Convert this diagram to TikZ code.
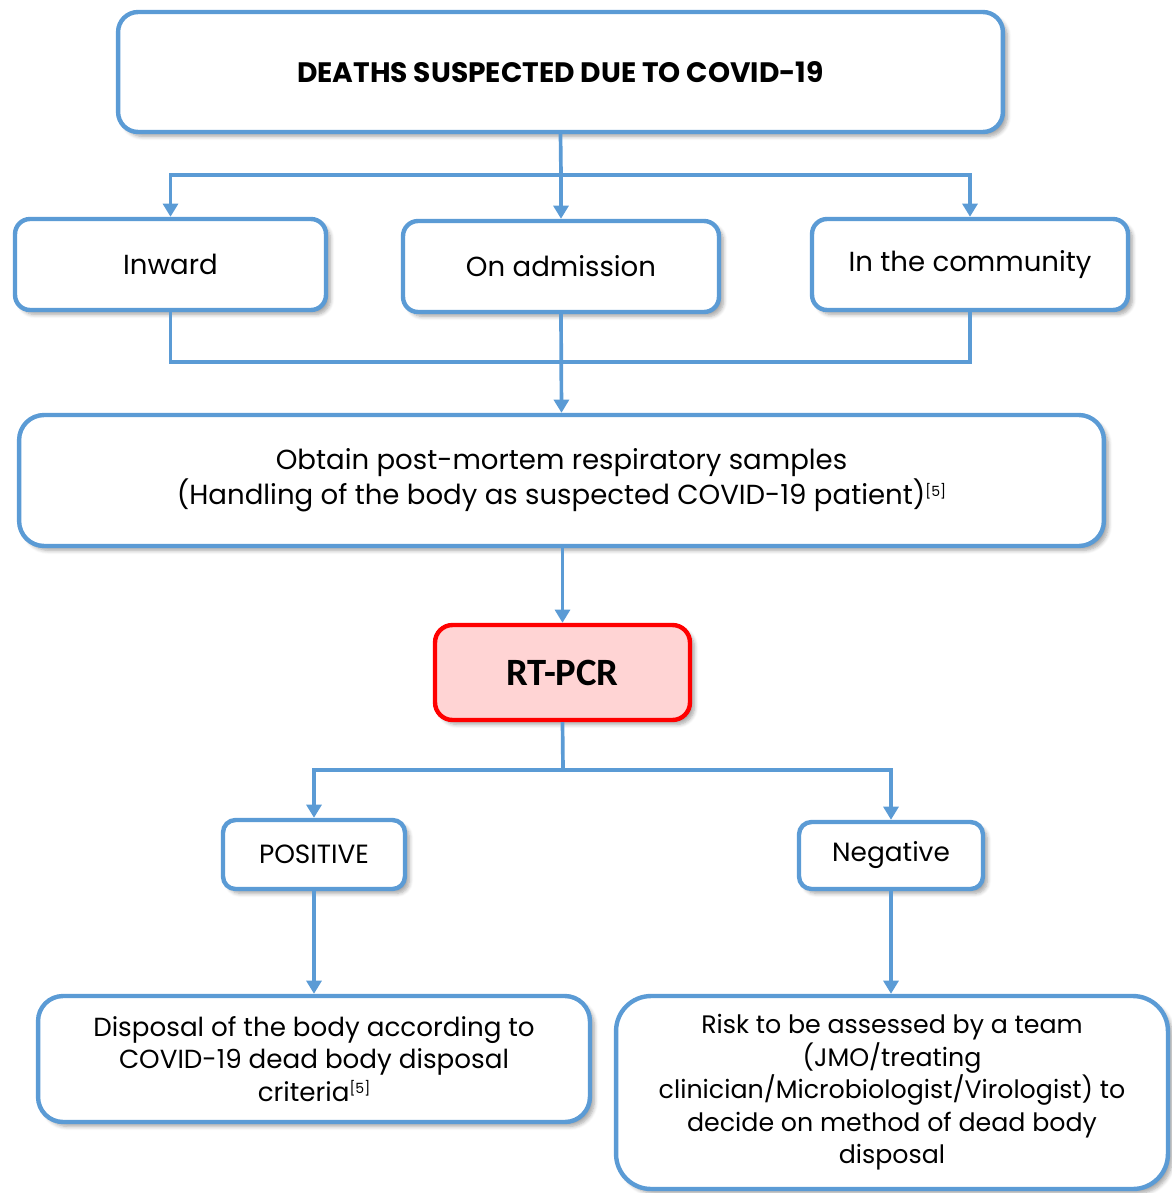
\documentclass[tikz,border=0pt]{standalone}
\usepackage{fontspec}
\setmainfont{Poppins}
\newfontfamily\calibrifont{Carlito}
\usetikzlibrary{arrows.meta,shadows.blur}
\definecolor{flowblue}{HTML}{5B9BD5}
\definecolor{pcrred}{HTML}{FF0000}
\definecolor{pcrfill}{HTML}{FFD4D4}
\tikzset{
  flowbox/.style={draw=flowblue, line width=2.5pt, fill=white, rounded corners=#1,
    align=center, inner sep=0pt,
    blur shadow={shadow xshift=2.5pt, shadow yshift=-2.5pt, shadow blur steps=6, shadow opacity=35}},
  flowbox/.default=0.4cm,
  conn/.style={draw=flowblue, line width=2.1pt},
  arr/.style={conn, -{Triangle[width=8.5pt,length=7.5pt]}},
  txt/.style={font=\fontsize{15.7}{20}\selectfont},
}
\newcommand{\refmark}[1]{\raisebox{0.55ex}{\fontsize{8}{8}\selectfont#1}}
\begin{document}
\begin{tikzpicture}[x=0.02cm,y=-0.02cm]
\useasboundingbox (0,0) rectangle (1172,1193);

% top box
\node[flowbox, minimum width=17.7cm, minimum height=2.4cm,
  font=\bfseries\fontsize{16}{19}\selectfont] (top) at (560.5,72) {DEATHS SUSPECTED DUE TO COVID-19};

% place of death
\node[flowbox=0.3cm, txt, minimum width=6.22cm, minimum height=1.82cm] (inward) at (170.5,264.5) {Inward};
\node[flowbox=0.3cm, txt, minimum width=6.32cm, minimum height=1.82cm] (adm) at (561,266.5) {On admission};
\node[flowbox=0.3cm, txt, minimum width=6.32cm, minimum height=1.82cm] (comm) at (970,264.5) {In the community};

% sampling
\node[flowbox=0.5cm, txt, minimum width=21.7cm, minimum height=2.62cm] (obtain) at (561.5,480.5)
  {Obtain post-mortem respiratory samples\\(Handling of the body as suspected COVID-19 patient)\refmark{[5]}};

% test
\node[flowbox=0.35cm, draw=pcrred, fill=pcrfill, minimum width=5.1cm, minimum height=1.9cm,
  font=\calibrifont\bfseries\fontsize{22}{26}\selectfont] (pcr) at (562.5,672.5) {RT-PCR};

% results
\node[flowbox=0.25cm, font=\fontsize{15}{18}\selectfont, minimum width=3.64cm, minimum height=1.38cm] (pos) at (314,854.5) {POSITIVE};
\node[flowbox=0.25cm, font=\fontsize{15}{18}\selectfont, minimum width=3.68cm, minimum height=1.34cm] (neg) at (891,855.5) {Negative};

% outcomes
\node[flowbox=0.5cm, font=\fontsize{14.9}{18.5}\selectfont, minimum width=11.04cm, minimum height=2.52cm] (disp) at (314,1059)
  {Disposal of the body according to\\COVID-19 dead body disposal\\criteria\refmark{[5]}};
\node[flowbox=0.7cm, font=\fontsize{14.4}{18.5}\selectfont, minimum width=11.04cm, minimum height=3.86cm] (risk) at (892,1092.5)
  {Risk to be assessed by a team\\(JMO/treating\\clinician/Microbiologist/Virologist) to\\decide on method of dead body\\disposal};

% connectors
\coordinate (split) at (561,175);
\coordinate (merge) at (561,362);
\coordinate (fork) at (563,770);

\draw[conn] (top.south) -- (split);
\draw[arr] (split) -| (inward.north);
\draw[arr] (split) -| (comm.north);
\draw[arr] (split) -- (adm.north);

\draw[conn] (inward.south) |- (merge);
\draw[conn] (comm.south) |- (merge);
\draw[arr] (adm.south) -- (obtain.north);

\draw[arr] (obtain.south -| pcr.north) -- (pcr.north);

\draw[conn] (pcr.south) -- (fork);
\draw[arr] (fork) -| (pos.north);
\draw[arr] (fork) -| (neg.north);

\draw[arr] (pos.south) -- (disp.north);
\draw[arr] (neg.south) -- (neg.south |- risk.north);
\end{tikzpicture}
\end{document}
